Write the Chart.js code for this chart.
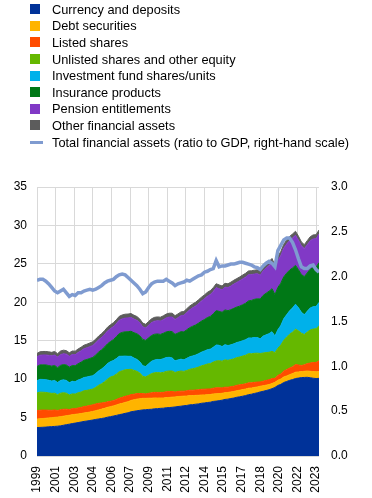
<!DOCTYPE html>
<html>
<head>
<meta charset="utf-8">
<script src="https://cdn.jsdelivr.net/npm/chart.js@4.4.0/dist/chart.umd.min.js"></script>
<style>
  body { margin: 0; background: #fff; }
  #wrap { position: relative; width: 372px; height: 498px; font-family: Arial, "Liberation Sans", sans-serif; }
  #chart { position: absolute; left: 0; top: 0; }
  #legend { position: absolute; left: 30px; top: 1px; z-index: 1; font-size: 12.8px; color: #000; }
  .item { display: flex; align-items: center; height: 16.6px; white-space: nowrap; }
  .swatch { width: 10px; height: 10px; margin-right: 12px; flex: none; }
  .swatch.line { width: 13px; height: 3px; margin-right: 9px; }
</style>
</head>
<body>
<div id="wrap">
  <canvas id="chart" width="372" height="498"></canvas>
  <div id="legend"></div>
</div>
<script>
// quarterly data, 1999 Q4 to 2023 Q4, EUR trillions
const monthsPerPoint = 3;
const yearTicks = ["1999", "2001", "2003", "2004", "2006", "2007", "2009", "2011",
  "2012", "2014", "2015", "2017", "2018", "2020", "2022", "2023"];
const tickStepMonths = 19;

const currency = [3.70,
  3.72, 3.74, 3.76, 3.80,  3.82, 3.85, 3.88, 3.92,  4.00, 4.08, 4.14, 4.22,
  4.28, 4.35, 4.42, 4.50,  4.55, 4.62, 4.68, 4.76,  4.82, 4.88, 4.95, 5.05,
  5.12, 5.20, 5.28, 5.38,  5.45, 5.55, 5.62, 5.75,  5.82, 5.88, 5.94, 6.00,
  6.02, 6.06, 6.08, 6.14,  6.16, 6.20, 6.22, 6.28,  6.30, 6.34, 6.38, 6.44,
  6.48, 6.54, 6.58, 6.66,  6.68, 6.74, 6.78, 6.86,  6.90, 6.96, 7.00, 7.10,
  7.14, 7.20, 7.26, 7.36,  7.40, 7.48, 7.54, 7.64,  7.70, 7.78, 7.86, 7.98,
  8.04, 8.14, 8.22, 8.34,  8.42, 8.52, 8.62, 8.76,  8.92, 9.18, 9.32, 9.56,
  9.70, 9.84, 9.94, 10.08,  10.14, 10.20, 10.22, 10.24,  10.18, 10.12, 10.08, 10.10];

const debtSecurities = [1.10,
  1.12, 1.14, 1.15, 1.16,  1.17, 1.18, 1.18, 1.20,  1.18, 1.17, 1.16, 1.16,
  1.14, 1.12, 1.10, 1.10,  1.10, 1.10, 1.12, 1.14,  1.18, 1.22, 1.25, 1.28,
  1.30, 1.32, 1.35, 1.38,  1.40, 1.42, 1.45, 1.48,  1.50, 1.52, 1.52, 1.50,
  1.48, 1.46, 1.44, 1.42,  1.38, 1.35, 1.32, 1.32,  1.32, 1.32, 1.30, 1.30,
  1.28, 1.25, 1.22, 1.20,  1.18, 1.15, 1.12, 1.08,  1.05, 1.02, 1.00, 0.98,
  0.95, 0.92, 0.90, 0.88,  0.87, 0.86, 0.86, 0.86,  0.86, 0.86, 0.85, 0.84,
  0.80, 0.78, 0.76, 0.74,  0.72, 0.70, 0.68, 0.67,  0.66, 0.68, 0.70, 0.72,
  0.72, 0.74, 0.78, 0.82,  0.80, 0.78, 0.80, 0.82,  0.84, 0.86, 0.87, 0.88];

const listedShares = [1.10,
  1.12, 1.10, 1.06, 1.00,  0.96, 0.96, 0.86, 0.90,  0.90, 0.84, 0.74, 0.78,
  0.74, 0.78, 0.80, 0.84,  0.84, 0.86, 0.86, 0.88,  0.86, 0.80, 0.76, 0.72,
  0.70, 0.68, 0.72, 0.76,  0.78, 0.80, 0.78, 0.76,  0.72, 0.72, 0.68, 0.62,
  0.58, 0.64, 0.70, 0.72,  0.74, 0.72, 0.74, 0.76,  0.76, 0.74, 0.64, 0.66,
  0.68, 0.64, 0.68, 0.70,  0.70, 0.70, 0.72, 0.74,  0.74, 0.74, 0.72, 0.74,
  0.78, 0.76, 0.70, 0.72,  0.68, 0.68, 0.68, 0.70,  0.70, 0.68, 0.68, 0.70,
  0.68, 0.66, 0.64, 0.56,  0.60, 0.62, 0.62, 0.64,  0.52, 0.62, 0.66, 0.78,
  0.82, 0.86, 0.90, 1.00,  0.90, 0.80, 0.84, 0.96,  1.08, 1.18, 1.22, 1.40];

const unlistedShares = [2.30,
  2.35, 2.32, 2.30, 2.25,  2.20, 2.18, 2.05, 2.15,  2.15, 2.08, 1.90, 1.92,
  1.90, 1.98, 2.00, 2.05,  2.05, 2.05, 2.05, 2.15,  2.35, 2.50, 2.70, 2.95,
  3.15, 3.20, 3.30, 3.45,  3.45, 3.45, 3.40, 3.30,  3.10, 2.90, 2.65, 2.25,
  2.20, 2.35, 2.50, 2.55,  2.58, 2.55, 2.60, 2.65,  2.68, 2.66, 2.55, 2.58,
  2.62, 2.58, 2.65, 2.72,  2.80, 2.86, 2.95, 3.05,  3.15, 3.25, 3.30, 3.40,
  3.50, 3.52, 3.48, 3.55,  3.50, 3.52, 3.56, 3.60,  3.62, 3.68, 3.72, 3.80,
  3.78, 3.78, 3.76, 3.70,  3.66, 3.62, 3.58, 3.55,  3.35, 3.55, 3.75, 4.00,
  4.25, 4.40, 4.50, 4.60,  4.45, 4.20, 3.95, 4.10,  4.30, 4.35, 4.40, 4.55];

const investmentFunds = [1.60,
  1.66, 1.66, 1.66, 1.64,  1.60, 1.66, 1.58, 1.66,  1.68, 1.66, 1.60, 1.64,
  1.60, 1.66, 1.70, 1.72,  1.74, 1.74, 1.74, 1.80,  1.86, 1.92, 1.98, 2.02,
  2.00, 2.02, 2.02, 2.00,  1.90, 1.78, 1.72, 1.68,  1.60, 1.55, 1.46, 1.38,
  1.36, 1.48, 1.60, 1.66,  1.70, 1.72, 1.78, 1.80,  1.78, 1.70, 1.52, 1.52,
  1.54, 1.50, 1.58, 1.62,  1.66, 1.68, 1.74, 1.78,  1.82, 1.86, 1.88, 1.92,
  2.08, 2.00, 1.90, 1.98,  1.92, 1.92, 1.95, 1.96,  1.98, 2.00, 2.02, 2.04,
  2.06, 2.06, 2.04, 1.90,  2.20, 2.30, 2.42, 2.55,  2.15, 2.40, 2.55, 2.80,
  2.90, 3.05, 3.15, 3.25,  3.00, 2.72, 2.58, 2.70,  2.85, 2.92, 2.88, 3.05];

const insurance = [1.85,
  1.88, 1.90, 1.92, 1.92,  1.94, 1.95, 1.94, 1.96,  1.98, 2.00, 2.02, 2.05,
  2.08, 2.12, 2.18, 2.24,  2.28, 2.32, 2.38, 2.42,  2.46, 2.50, 2.54, 2.58,
  2.62, 2.72, 2.84, 2.96,  3.10, 3.16, 3.20, 3.26,  3.30, 3.34, 3.38, 3.42,
  3.40, 3.38, 3.36, 3.35,  3.32, 3.28, 3.30, 3.34,  3.38, 3.42, 3.44, 3.50,
  3.58, 3.64, 3.72, 3.80,  3.86, 3.92, 3.98, 4.04,  4.10, 4.18, 4.26, 4.34,
  4.46, 4.42, 4.46, 4.52,  4.54, 4.58, 4.62, 4.62,  4.64, 4.68, 4.74, 4.82,
  4.88, 4.96, 5.04, 5.18,  5.30, 5.42, 5.52, 5.60,  5.40, 5.50, 5.50, 5.45,
  5.40, 5.30, 5.20, 5.05,  4.95, 4.92, 4.95, 5.00,  5.05, 5.10, 5.12, 5.18];

const pensions = [1.25,
  1.26, 1.28, 1.30, 1.32,  1.34, 1.36, 1.38, 1.40,  1.42, 1.42, 1.42, 1.44,
  1.44, 1.46, 1.48, 1.50,  1.52, 1.54, 1.56, 1.58,  1.60, 1.62, 1.64, 1.66,
  1.68, 1.70, 1.72, 1.74,  1.76, 1.78, 1.80, 1.80,  1.78, 1.74, 1.70, 1.64,
  1.62, 1.65, 1.68, 1.70,  1.72, 1.74, 1.78, 1.82,  1.86, 1.90, 1.94, 2.00,
  2.08, 2.16, 2.24, 2.32,  2.40, 2.46, 2.54, 2.62,  2.70, 2.78, 2.86, 2.92,
  3.00, 2.94, 2.92, 2.96,  3.00, 3.08, 3.16, 3.20,  3.30, 3.36, 3.40, 3.40,
  3.36, 3.30, 3.26, 3.10,  3.20, 3.28, 3.36, 3.42,  3.30, 3.50, 3.62, 3.72,
  3.80, 3.86, 3.90, 3.92,  3.84, 3.72, 3.64, 3.68,  3.70, 3.72, 3.70, 3.72];

const otherAssets = [0.45,
  0.45, 0.46, 0.45, 0.46,  0.46, 0.46, 0.45, 0.46,  0.46, 0.46, 0.45, 0.45,
  0.46, 0.46, 0.47, 0.47,  0.47, 0.48, 0.48, 0.48,  0.48, 0.49, 0.49, 0.50,
  0.50, 0.50, 0.50, 0.50,  0.51, 0.51, 0.50, 0.50,  0.50, 0.50, 0.49, 0.48,
  0.48, 0.49, 0.49, 0.50,  0.50, 0.50, 0.50, 0.50,  0.50, 0.50, 0.49, 0.49,
  0.49, 0.49, 0.50, 0.50,  0.50, 0.50, 0.50, 0.50,  0.50, 0.50, 0.50, 0.50,
  0.50, 0.50, 0.50, 0.50,  0.50, 0.50, 0.50, 0.50,  0.50, 0.50, 0.50, 0.50,
  0.50, 0.50, 0.50, 0.50,  0.50, 0.50, 0.51, 0.51,  0.51, 0.51, 0.52, 0.52,
  0.52, 0.52, 0.52, 0.52,  0.52, 0.52, 0.52, 0.52,  0.52, 0.52, 0.52, 0.52];

// ratio to GDP, right-hand scale
const totalToGdp = [1.96,
  1.97, 1.97, 1.95, 1.92,  1.88, 1.84, 1.82, 1.84,  1.86, 1.82, 1.78, 1.80,
  1.79, 1.82, 1.82, 1.84,  1.85, 1.86, 1.85, 1.86,  1.88, 1.90, 1.93, 1.95,
  1.96, 1.97, 2.00, 2.02,  2.03, 2.02, 1.99, 1.96,  1.93, 1.90, 1.86, 1.81,
  1.83, 1.88, 1.92, 1.94,  1.95, 1.95, 1.95, 1.97,  1.95, 1.93, 1.90, 1.92,
  1.93, 1.94, 1.96, 1.95,  1.97, 1.99, 2.01, 2.02,  2.05, 2.06, 2.08, 2.09,
  2.18, 2.11, 2.12, 2.12,  2.13, 2.14, 2.14, 2.15,  2.16, 2.16, 2.15, 2.14,
  2.13, 2.11, 2.10, 2.08,  2.12, 2.15, 2.17, 2.15,  2.11, 2.29, 2.35, 2.41,
  2.43, 2.43, 2.38, 2.30,  2.20, 2.11, 2.09, 2.09,  2.12, 2.13, 2.08, 2.05];

const seriesNames = ["Currency and deposits", "Debt securities", "Listed shares",
  "Unlisted shares and other equity", "Investment fund shares/units",
  "Insurance products", "Pension entitlements", "Other financial assets"];
const seriesValues = [currency, debtSecurities, listedShares, unlistedShares,
  investmentFunds, insurance, pensions, otherAssets];
const seriesColors = ["#003299", "#ffb400", "#ff4b00", "#65b800",
  "#00b1ea", "#007816", "#8139c6", "#5c5c5c"];
const lineName = "Total financial assets (ratio to GDP, right-hand scale)";
const lineColor = "#7f9bd0";

// legend as html, one item per row
const legendBox = document.getElementById("legend");
seriesNames.forEach((name, k) => {
  const row = document.createElement("div");
  row.className = "item";
  row.innerHTML = '<span class="swatch" style="background:' + seriesColors[k] + '"></span>' + name;
  legendBox.appendChild(row);
});
const lineRow = document.createElement("div");
lineRow.className = "item";
lineRow.innerHTML = '<span class="swatch line" style="background:' + lineColor + '"></span>' + lineName;
legendBox.appendChild(lineRow);

Chart.defaults.font.family = 'Arial, "Liberation Sans", sans-serif';
Chart.defaults.font.size = 12;
Chart.defaults.color = "#000";

const areaSets = seriesNames.map((name, k) => ({
  label: name,
  data: seriesValues[k].map((v, i) => ({ x: i * monthsPerPoint, y: v })),
  backgroundColor: seriesColors[k],
  borderColor: seriesColors[k],
  borderWidth: 1,
  pointRadius: 0,
  tension: 0,
  fill: k === 0 ? "origin" : "-1",
  yAxisID: "y"
}));

const ratioSet = {
  label: lineName,
  data: totalToGdp.map((v, i) => ({ x: i * monthsPerPoint, y: v })),
  borderColor: lineColor,
  borderWidth: 3.5,
  pointRadius: 0,
  tension: 0,
  fill: false,
  yAxisID: "y2",
  order: -1
};

new Chart(document.getElementById("chart"), {
  type: "line",
  data: { datasets: [...areaSets, ratioSet] },
  options: {
    responsive: false,
    animation: false,
    layout: { padding: { top: 187, left: 0, right: 0, bottom: 0 } },
    plugins: { legend: { display: false }, tooltip: { enabled: false } },
    scales: {
      x: {
        type: "linear",
        min: 0,
        max: (currency.length - 1) * monthsPerPoint,
        afterBuildTicks: (scale) => {
          scale.ticks = yearTicks.map((_, k) => ({ value: k * tickStepMonths }));
        },
        afterFit: (scale) => { scale.height = 42; },
        ticks: {
          autoSkip: false,
          minRotation: 90,
          maxRotation: 90,
          padding: 10,
          callback: (value, index) => yearTicks[index]
        },
        grid: { color: "#d9d9d9", drawTicks: false },
        border: { display: false }
      },
      y: {
        stacked: true,
        min: 0,
        max: 35,
        afterFit: (scale) => { scale.width = 37; },
        ticks: { stepSize: 5, padding: 10 },
        grid: { color: "#d9d9d9", drawTicks: false },
        border: { display: false }
      },
      y2: {
        position: "right",
        min: 0,
        max: 3,
        afterFit: (scale) => { scale.width = 53; },
        ticks: { stepSize: 0.5, padding: 12, callback: (v) => v.toFixed(1) },
        grid: { drawOnChartArea: false, drawTicks: false },
        border: { display: false }
      }
    }
  }
});
</script>
</body>
</html>
